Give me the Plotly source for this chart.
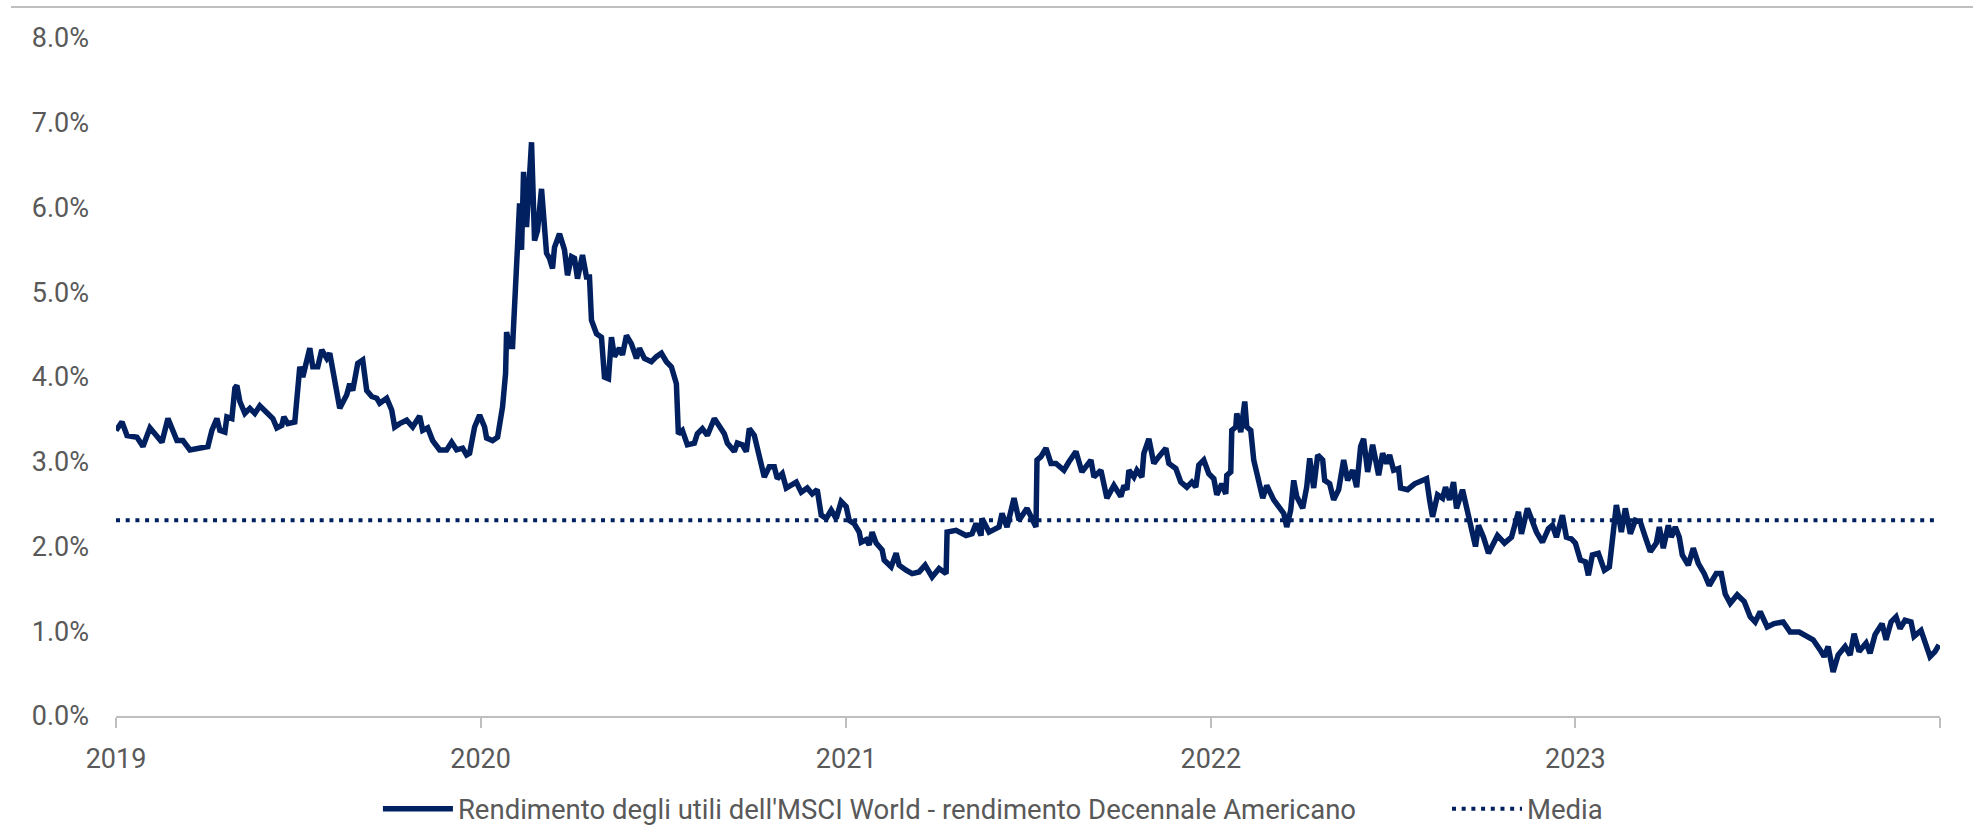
import pandas as pd
import plotly.graph_objects as go

# giorni dal 1 gennaio 2019 e spread (in %)
giorni = [0, 6, 11, 21, 27, 34, 46, 52, 61, 67, 74, 87, 92, 96, 101, 104, 109, 111, 116, 119,
          121, 124, 129, 134, 139, 144, 151, 157, 161, 166, 168, 172, 179, 184, 187, 194, 197, 202, 206, 211,
          214, 219, 224, 231, 234, 237, 242, 247, 251, 256, 261, 264, 271, 276, 279, 284, 291, 297, 304, 307,
          312, 317, 324, 331, 336, 341, 347, 351, 354, 359, 364, 369, 371, 377, 382, 387, 390, 391, 394, 397,
          401, 402, 404, 406, 408, 411, 416, 419, 422, 426, 431, 434, 437, 439, 444, 449, 452, 456, 459, 462,
          467, 471, 474, 476, 481, 486, 489, 493, 496, 499, 504, 507, 511, 516, 521, 524, 529, 536, 541, 546,
          551, 556, 561, 563, 567, 572, 579, 582, 587, 592, 599, 604, 609, 612, 619, 622, 627, 631, 634, 639,
          644, 649, 654, 659, 662, 667, 671, 681, 686, 692, 697, 702, 706, 711, 716, 721, 726, 731, 734, 739,
          744, 746, 751, 754, 757, 761, 764, 767, 769, 776, 781, 784, 791, 797, 804, 810, 817, 824, 831, 832,
          841, 851, 857, 861, 866, 867, 874, 884, 887, 892, 899, 904, 912, 917, 921, 922, 926, 931, 936, 941,
          949, 954, 961, 967, 976, 979, 986, 992, 999, 1006, 1009, 1012, 1014, 1019, 1022, 1027, 1029, 1034, 1039, 1044,
          1051, 1054, 1061, 1066, 1072, 1077, 1081, 1084, 1089, 1094, 1099, 1102, 1107, 1111, 1112, 1116, 1117, 1121, 1122, 1126,
          1130, 1132, 1136, 1139, 1143, 1146, 1148, 1152, 1159, 1164, 1169, 1172, 1176, 1179, 1182, 1188, 1192, 1195, 1199, 1203,
          1208, 1210, 1215, 1219, 1224, 1229, 1233, 1238, 1242, 1246, 1249, 1253, 1258, 1264, 1268, 1272, 1275, 1279, 1284, 1286,
          1293, 1300, 1307, 1312, 1315, 1318, 1323, 1328, 1331, 1335, 1339, 1342, 1348, 1353, 1358, 1361, 1364, 1369, 1374, 1378,
          1383, 1390, 1397, 1404, 1407, 1413, 1418, 1422, 1428, 1434, 1438, 1442, 1448, 1452, 1457, 1461, 1466, 1471, 1474, 1478,
          1484, 1490, 1495, 1498, 1502, 1505, 1507, 1511, 1516, 1521, 1526, 1531, 1536, 1542, 1545, 1549, 1554, 1557, 1561, 1565,
          1568, 1574, 1579, 1584, 1590, 1595, 1602, 1607, 1611, 1616, 1623, 1630, 1636, 1641, 1646, 1653, 1660, 1669, 1676, 1685,
          1692, 1699, 1706, 1710, 1714, 1719, 1724, 1731, 1736, 1740, 1745, 1752, 1756, 1761, 1768, 1772, 1777, 1782, 1786, 1791,
          1797, 1800, 1807, 1812, 1816, 1821, 1825]

rendimento = [3.37, 3.47, 3.31, 3.29, 3.18, 3.40, 3.23, 3.51, 3.25, 3.25, 3.14, 3.16, 3.18, 3.37, 3.51, 3.37, 3.35, 3.53, 3.51, 3.87,
              3.90, 3.71, 3.57, 3.63, 3.57, 3.66, 3.57, 3.51, 3.40, 3.43, 3.53, 3.45, 3.47, 4.12, 4.00, 4.34, 4.12, 4.12, 4.32, 4.22,
              4.28, 3.96, 3.63, 3.79, 3.92, 3.84, 4.16, 4.20, 3.84, 3.77, 3.75, 3.69, 3.75, 3.61, 3.41, 3.45, 3.49, 3.41, 3.54, 3.37,
              3.40, 3.25, 3.14, 3.14, 3.23, 3.14, 3.16, 3.08, 3.10, 3.41, 3.55, 3.41, 3.28, 3.25, 3.29, 3.65, 4.04, 4.53, 4.36, 4.36,
              5.12, 5.55, 6.05, 5.50, 6.42, 5.77, 6.77, 5.61, 5.73, 6.22, 5.46, 5.40, 5.28, 5.53, 5.69, 5.50, 5.20, 5.42, 5.40, 5.16,
              5.44, 5.18, 5.18, 4.67, 4.51, 4.47, 4.00, 3.98, 4.47, 4.24, 4.34, 4.26, 4.49, 4.39, 4.22, 4.34, 4.22, 4.18, 4.24, 4.28,
              4.18, 4.12, 3.92, 3.33, 3.37, 3.20, 3.22, 3.33, 3.39, 3.31, 3.51, 3.43, 3.33, 3.22, 3.12, 3.22, 3.20, 3.12, 3.39, 3.31,
              3.06, 2.82, 2.94, 2.94, 2.80, 2.86, 2.69, 2.76, 2.64, 2.69, 2.62, 2.67, 2.37, 2.33, 2.43, 2.33, 2.53, 2.47, 2.31, 2.27,
              2.17, 2.05, 2.08, 2.02, 2.17, 2.04, 2.00, 1.96, 1.84, 1.76, 1.92, 1.78, 1.72, 1.68, 1.70, 1.78, 1.64, 1.74, 1.68, 2.17,
              2.19, 2.13, 2.15, 2.27, 2.13, 2.33, 2.17, 2.23, 2.39, 2.23, 2.57, 2.31, 2.45, 2.33, 2.23, 3.02, 3.06, 3.16, 2.98, 2.98,
              2.90, 3.00, 3.12, 2.88, 3.02, 2.82, 2.90, 2.57, 2.72, 2.59, 2.72, 2.67, 2.90, 2.82, 2.90, 2.82, 3.10, 3.27, 2.98, 3.06,
              3.16, 2.98, 2.92, 2.76, 2.70, 2.76, 2.70, 2.96, 3.02, 2.86, 2.80, 2.61, 2.74, 2.62, 2.84, 2.88, 3.37, 3.41, 3.57, 3.35,
              3.71, 3.41, 3.37, 3.02, 2.82, 2.69, 2.57, 2.72, 2.55, 2.47, 2.39, 2.23, 2.43, 2.78, 2.59, 2.45, 2.70, 3.04, 2.69, 3.08,
              3.02, 2.78, 2.74, 2.55, 2.67, 3.02, 2.78, 2.90, 2.70, 3.18, 3.27, 2.88, 3.20, 2.84, 3.10, 2.98, 3.08, 2.90, 2.92, 2.69,
              2.67, 2.74, 2.78, 2.80, 2.55, 2.35, 2.61, 2.57, 2.70, 2.55, 2.76, 2.45, 2.67, 2.43, 2.15, 2.00, 2.25, 2.11, 1.92, 2.00,
              2.13, 2.04, 2.11, 2.41, 2.15, 2.45, 2.27, 2.17, 2.05, 2.21, 2.25, 2.11, 2.37, 2.11, 2.09, 2.04, 1.84, 1.82, 1.66, 1.90,
              1.92, 1.72, 1.76, 2.15, 2.49, 2.31, 2.17, 2.45, 2.15, 2.31, 2.29, 2.11, 1.94, 2.04, 2.23, 1.98, 2.25, 2.11, 2.23, 2.11,
              1.90, 1.78, 1.98, 1.80, 1.68, 1.54, 1.68, 1.68, 1.44, 1.33, 1.43, 1.35, 1.17, 1.11, 1.23, 1.05, 1.09, 1.11, 0.99, 0.99,
              0.94, 0.90, 0.78, 0.70, 0.82, 0.52, 0.72, 0.82, 0.72, 0.97, 0.76, 0.86, 0.74, 0.96, 1.09, 0.90, 1.11, 1.17, 1.03, 1.13,
              1.11, 0.94, 1.01, 0.82, 0.70, 0.76, 0.84]

media = 2.31

anni = ["2019", "2020", "2021", "2022", "2023", ""]
anni_date = ["2019-01-01", "2020-01-01", "2021-01-01", "2022-01-01", "2023-01-01", "2024-01-01"]

nome_serie = "Rendimento degli utili dell'MSCI World - rendimento Decennale Americano"
nome_media = "Media"

blu = "#002060"
grigio_testo = "#595959"
grigio_asse = "#BFBFBF"

date = pd.Timestamp("2019-01-01") + pd.to_timedelta(giorni, unit="D")

fig = go.Figure()

fig.add_trace(go.Scatter(x=date, y=rendimento, mode="lines", name=nome_serie,
                         line=dict(color=blu, width=5.5), legend="legend"))

fig.add_trace(go.Scatter(x=[date[0], date[-1]], y=[media, media], mode="lines", name=nome_media,
                         line=dict(color=blu, width=4, dash="4px,5.7px"), legend="legend2"))

legenda = dict(orientation="h", xanchor="left", y=-0.137, yanchor="middle",
               font=dict(size=27.5, color=grigio_testo), itemwidth=70,
               bgcolor="rgba(0,0,0,0)")

fig.update_layout(
    width=1973, height=827,
    margin=dict(l=116, r=33, t=38, b=111, autoexpand=False),
    paper_bgcolor="white", plot_bgcolor="white",
    font=dict(family="Roboto", size=27, color=grigio_testo),
    showlegend=True,
    legend=dict(legenda, x=0.1436),
    legend2=dict(legenda, x=0.7297),
)

fig.update_xaxes(type="date", range=["2019-01-01", "2024-01-01"],
                 tickmode="array", tickvals=anni_date, ticktext=anni,
                 showgrid=False, showline=True, linecolor=grigio_asse, linewidth=2,
                 ticks="outside", ticklen=10, tickwidth=1.5, tickcolor=grigio_asse,
                 ticklabelstandoff=8, zeroline=False)

fig.update_yaxes(range=[0, 8], tickmode="linear", tick0=0, dtick=1,
                 tickformat=".1f", ticksuffix="%",
                 showgrid=False, showline=False, zeroline=False,
                 ticks="", ticklabelstandoff=26)

# linea grigia in alto
fig.add_shape(type="line", xref="paper", yref="paper",
              x0=-0.0576, x1=1.02, y0=1.0457, y1=1.0457,
              line=dict(color=grigio_asse, width=2))

fig.write_html("out.html", config={"displayModeBar": False},
               post_script="document.body.style.margin='0';")
